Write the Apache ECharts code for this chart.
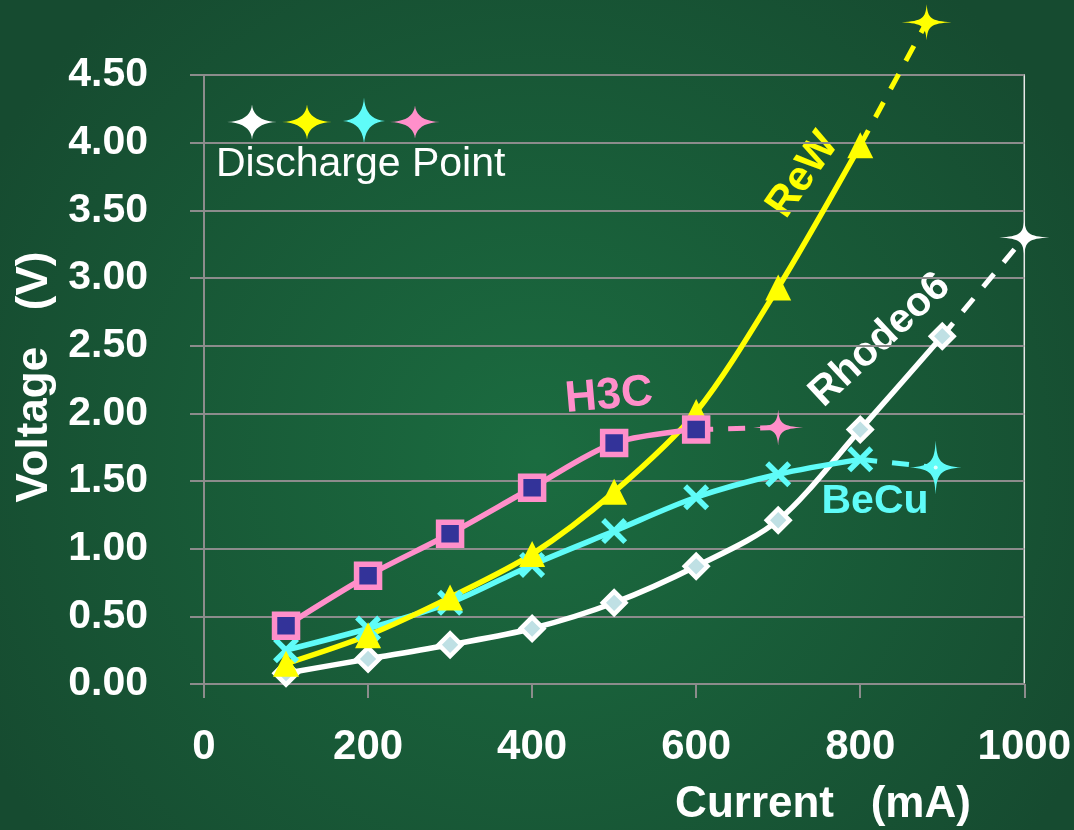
<!DOCTYPE html>
<html>
<head>
<meta charset="utf-8">
<script src="https://cdn.jsdelivr.net/npm/echarts@6/dist/echarts.min.js"></script>
<style>html,body{margin:0;padding:0;background:#175232;}#c{width:1074px;height:830px;}</style>
</head>
<body>
<div id="c"></div>
<script>
// ---- data ----
var xTicks = [0, 200, 400, 600, 800, 1000];
var yTicks = [0, 0.5, 1, 1.5, 2, 2.5, 3, 3.5, 4, 4.5];
var rhodeo6 = [[100,0.08],[200,0.185],[300,0.29],[400,0.41],[500,0.60],[600,0.87],[700,1.21],[800,1.88],[900,2.57]];
var rhodeo6Discharge = [[900,2.57],[1000,3.30]];
var rew = [[100,0.15],[200,0.36],[300,0.64],[400,0.96],[500,1.42],[600,2.01],[700,2.93],[800,3.98]];
var rewDischarge = [[800,3.98],[881,4.89]];
var h3c = [[100,0.43],[200,0.80],[300,1.11],[400,1.45],[500,1.78],[600,1.88]];
var h3cDischarge = [[600,1.88],[700,1.895]];
var becu = [[100,0.25],[200,0.41],[300,0.60],[400,0.88],[500,1.13],[600,1.38],[700,1.55],[800,1.66]];
var becuDischarge = [[800,1.66],[892,1.60]];

var WHITE = '#ffffff', YELLOW = '#ffff00', CYAN = '#5ffcf8', PINK = '#ff8fca', NAVY = '#333399';
var STAR = 'path://M0,-18 C1.2,-4 4,-1.2 25,0 C4,1.2 1.2,4 0,18 C-1.2,4 -4,1.2 -25,0 C-4,-1.2 -1.2,-4 0,-18 Z';
var XMARK = 'path://M-10,-7 L-7,-10 L0,-3 L7,-10 L10,-7 L3,0 L10,7 L7,10 L0,3 L-7,10 L-10,7 L-3,0 Z';
var FONT = 'Liberation Sans, Arial, sans-serif';

// star polygon points for the legend glyphs (concave 4-point star)
function starPoints(cx, cy, w, h) {
  var tips = [[0, -1], [1, 0], [0, 1], [-1, 0]];
  var pts = [];
  for (var i = 0; i < 4; i++) {
    var a = tips[i], b = tips[(i + 1) % 4];
    var c = [(a[0] + b[0]) * 0.06, (a[1] + b[1]) * 0.06];
    for (var t = 0; t < 1; t += 0.1) {
      var x = (1 - t) * (1 - t) * a[0] + 2 * (1 - t) * t * c[0] + t * t * b[0];
      var y = (1 - t) * (1 - t) * a[1] + 2 * (1 - t) * t * c[1] + t * t * b[1];
      pts.push([cx + x * w / 2, cy + y * h / 2]);
    }
  }
  return pts;
}

function dischargeSeries(data, color, size) {
  return {
    type: 'line', data: data.map(function (p, i) {
      return i === 0 ? { value: p, symbol: 'none' } : { value: p, symbol: STAR, symbolSize: size, itemStyle: { color: color } };
    }),
    lineStyle: { color: color, width: 5, type: [17, 15] },
    symbolKeepAspect: false, clip: false, z: 2, silent: true
  };
}
function mainSeries(data, color, symbol, size, itemStyle, rotate) {
  return {
    type: 'line', data: data, smooth: 0.3, symbol: symbol, symbolSize: size,
    symbolRotate: rotate || 0,
    showAllSymbol: true, clip: false, z: 3,
    lineStyle: { color: color, width: 5.5 }, itemStyle: itemStyle
  };
}

var chart = echarts.init(document.getElementById('c'));
chart.setOption({
  backgroundColor: {
    type: 'radial', x: 0.5, y: 0.55, r: 0.75,
    colorStops: [{ offset: 0, color: '#1b6c40' }, { offset: 1, color: '#164b30' }]
  },
  animation: false,
  grid: { left: 204, right: 47, top: 75, bottom: 146, show: true, borderColor: '#e8e8e8', borderWidth: 1.5, backgroundColor: 'transparent' },
  xAxis: {
    type: 'value', min: xTicks[0], max: xTicks[xTicks.length - 1], interval: 200,
    axisLine: { show: true, lineStyle: { color: '#8c8c8c', width: 2 } },
    axisTick: { show: true, length: 14, lineStyle: { color: '#8c8c8c', width: 2 } },
    splitLine: { show: false },
    axisLabel: { color: WHITE, fontSize: 42, fontWeight: 'bold', fontFamily: FONT, margin: 42, formatter: function (v) { return String(v); } }
  },
  yAxis: {
    type: 'value', min: yTicks[0], max: yTicks[yTicks.length - 1], interval: 0.5,
    axisLine: { show: true, lineStyle: { color: '#8c8c8c', width: 2 } },
    axisTick: { show: true, inside: false, length: 14, lineStyle: { color: '#8c8c8c', width: 2 } },
    splitLine: { show: true, lineStyle: { color: '#8c8c8c', width: 2 } },
    axisLabel: { color: WHITE, fontSize: 41, fontWeight: 'bold', fontFamily: FONT, margin: 56, formatter: function (v) { return v.toFixed(2); } }
  },
  series: [
    dischargeSeries(rhodeo6Discharge, WHITE, [50, 36]),
    dischargeSeries(rewDischarge, YELLOW, [50, 36]),
    dischargeSeries(h3cDischarge, PINK, [50, 36]),
    dischargeSeries(becuDischarge, CYAN, [52, 54]),
    { type: 'scatter', data: becuDischarge.slice(1), symbol: 'circle', symbolSize: 4, itemStyle: { color: WHITE }, z: 4, silent: true },
    mainSeries(rhodeo6, WHITE, 'rect', 16, { color: '#bfe0e4', borderColor: WHITE, borderWidth: 4.5 }, 45),
    mainSeries(becu, CYAN, XMARK, 26, { color: CYAN }),
    mainSeries(rew, YELLOW, 'triangle', 26, { color: YELLOW }),
    mainSeries(h3c, PINK, 'rect', 23, { color: NAVY, borderColor: PINK, borderWidth: 5.5 })
  ],
  graphic: [
    { type: 'text', x: 35, y: 377, rotation: Math.PI / 2, style: { text: 'Voltage   (V)', fill: WHITE, font: 'bold 44px ' + FONT, align: 'center', verticalAlign: 'middle' } },
    { type: 'text', x: 823, y: 805, style: { text: 'Current   (mA)', fill: WHITE, font: 'bold 44px ' + FONT, align: 'center', verticalAlign: 'middle' } },
    { type: 'text', x: 216, y: 165, style: { text: 'Discharge Point', fill: WHITE, font: '41px ' + FONT, align: 'left', verticalAlign: 'middle' } },
    { type: 'polygon', shape: { points: starPoints(252, 122, 50, 35) }, style: { fill: WHITE } },
    { type: 'polygon', shape: { points: starPoints(307, 122, 50, 35) }, style: { fill: YELLOW } },
    { type: 'polygon', shape: { points: starPoints(364, 121, 42, 47) }, style: { fill: CYAN } },
    { type: 'polygon', shape: { points: starPoints(415, 122, 50, 33) }, style: { fill: PINK } },
    { type: 'text', x: 803, y: 175, rotation: 55 * Math.PI / 180, style: { text: 'ReW', fill: YELLOW, font: 'bold 42px ' + FONT, align: 'center', verticalAlign: 'middle' } },
    { type: 'text', x: 880, y: 340, rotation: 43 * Math.PI / 180, style: { text: 'Rhodeo6', fill: WHITE, font: 'bold 41px ' + FONT, align: 'center', verticalAlign: 'middle' } },
    { type: 'text', x: 609, y: 396, rotation: 5 * Math.PI / 180, style: { text: 'H3C', fill: PINK, font: 'bold 44px ' + FONT, align: 'center', verticalAlign: 'middle' } },
    { type: 'text', x: 875, y: 502, style: { text: 'BeCu', fill: CYAN, font: 'bold 41px ' + FONT, align: 'center', verticalAlign: 'middle' } }
  ]
});
</script>
</body>
</html>
